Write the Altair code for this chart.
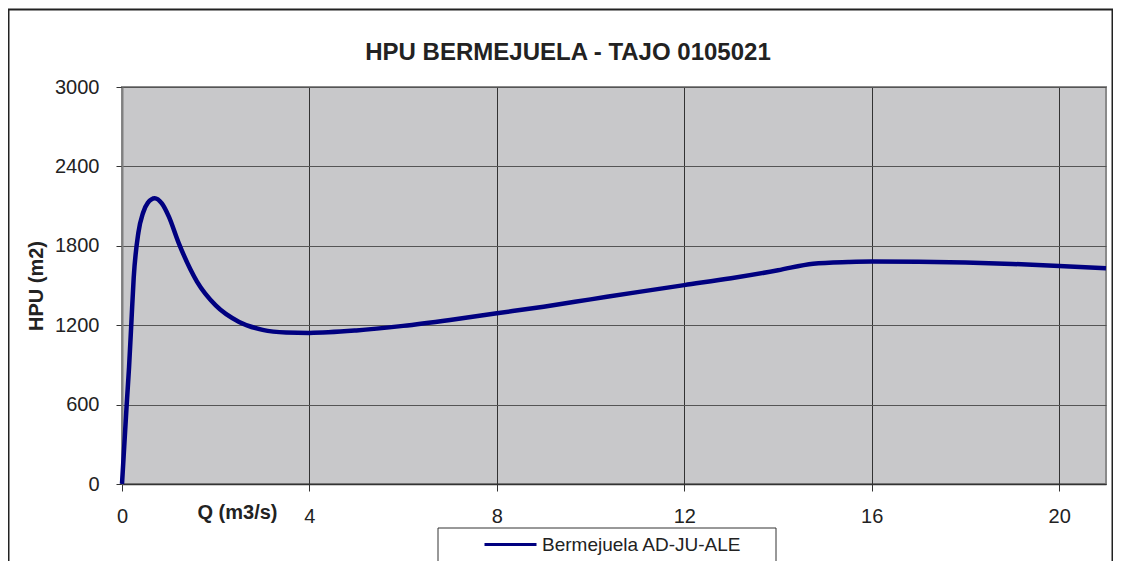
import altair as alt
import pandas as pd

# Data
q = [0, 0.1, 0.15, 0.2, 0.25, 0.35, 0.45, 0.55, 0.7, 0.85, 1.0, 1.2, 1.6, 2.0, 2.5, 3.0, 3.5, 4,
     5, 6, 7, 8, 9, 10, 11, 12, 13, 14, 14.75, 15.5, 16, 17, 18, 19, 20, 21]
hpu = [0, 600, 880, 1220, 1560, 1900, 2050, 2125, 2160, 2120, 2020, 1830, 1530, 1350, 1225, 1165, 1145, 1142,
       1160, 1195, 1240, 1290, 1340, 1395, 1450, 1503, 1555, 1615, 1665, 1678, 1682, 1680, 1674, 1663, 1648, 1630]
series = "Bermejuela AD-JU-ALE"
title = "HPU BERMEJUELA - TAJO 0105021"
x_ticks = [0, 4, 8, 12, 16, 20]
y_ticks = [0, 600, 1200, 1800, 2400, 3000]

df = pd.DataFrame({"Q": q, "HPU": hpu, "serie": series})
one = pd.DataFrame({"a": [0]})

FONT = "Liberation Sans"

frame = alt.Chart(one).mark_rect(filled=False, stroke="#222222", strokeWidth=2).encode(
    x=alt.value(-113.5), x2=alt.value(990.5), y=alt.value(-77.5), y2=alt.value(520)
)

legend_box = alt.Chart(one).mark_rect(fill="white", stroke="#333333", strokeWidth=1).encode(
    x=alt.value(316), x2=alt.value(654), y=alt.value(441), y2=alt.value(520)
)

title_text = alt.Chart(one).mark_text(
    text=title, fontSize=24, font=FONT, fontWeight="bold", color="#222222",
    align="center", baseline="alphabetic"
).encode(x=alt.value(446), y=alt.value(-27))

line = alt.Chart(df).mark_line(strokeWidth=4.5, interpolate="monotone").encode(
    x=alt.X("Q:Q", scale=alt.Scale(domain=[0, 21], nice=False),
            axis=alt.Axis(title="Q (m3/s)", values=x_ticks, format="d", labelFlush=False,
                          grid=True, gridColor="#333333", gridWidth=1,
                          domainColor="#333333", domainWidth=1.5,
                          tickColor="#333333", tickSize=7,
                          labelFontSize=20, labelFont=FONT, labelColor="#222222", labelPadding=15,
                          titleFontSize=20, titleFont=FONT, titleFontWeight="bold", titleColor="#222222",
                          titleX=115, titleY=34, titleBaseline="alphabetic", titleAlign="center")),
    y=alt.Y("HPU:Q", scale=alt.Scale(domain=[0, 3000], nice=False),
            axis=alt.Axis(title="HPU (m2)", values=y_ticks, format="d", labelFlush=False,
                          grid=True, gridColor="#555555", gridWidth=1,
                          domainColor="#808080", domainWidth=2,
                          tickColor="#333333", tickSize=6,
                          labelFontSize=20, labelFont=FONT, labelColor="#222222", labelPadding=17,
                          titleFontSize=20, titleFont=FONT, titleFontWeight="bold", titleColor="#222222",
                          titleX=-86, titleY=198.5, titleAngle=-90, titleAlign="center",
                          titleBaseline="middle")),
    color=alt.Color("serie:N", scale=alt.Scale(domain=[series], range=["#000080"]),
                    legend=alt.Legend(title=None, orient="none", legendX=361, legendY=430,
                                      symbolType="stroke", symbolSize=2704, symbolStrokeWidth=3,
                                      labelFontSize=19, labelFont=FONT, labelColor="#222222",
                                      labelOffset=4, labelLimit=400, padding=0))
)

chart = alt.layer(frame, legend_box, title_text, line).properties(
    width=984, height=397,
    autosize=alt.AutoSizeParams(type="none"),
    padding={"left": 114, "top": 79, "right": 7, "bottom": 77},
    background="white",
).configure_view(fill="#C8C8CA", stroke="#8a8a8a", strokeWidth=2)

chart.save("out.html", embed_options={"renderer": "svg", "actions": False})
